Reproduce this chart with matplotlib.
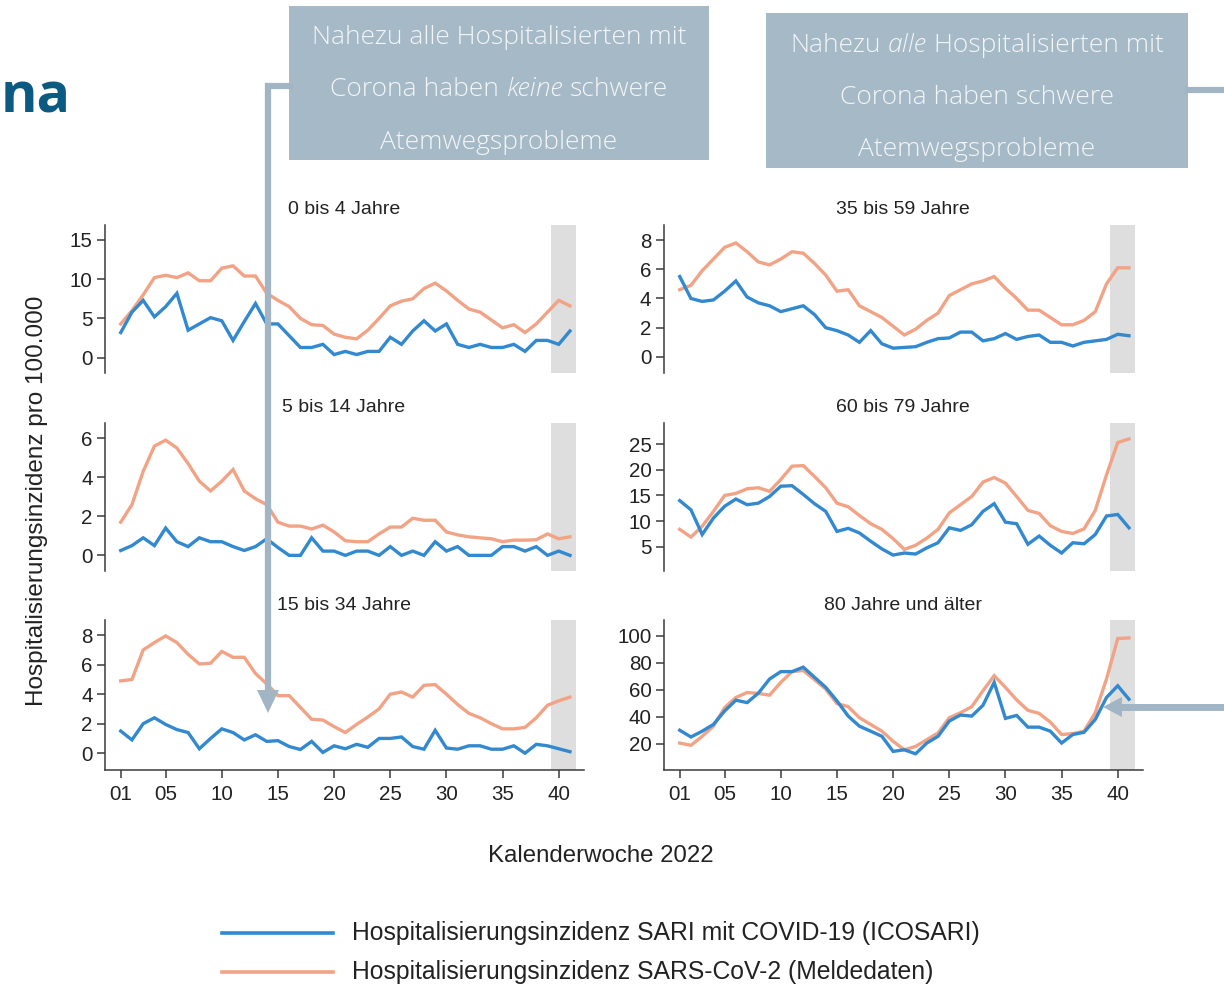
import matplotlib
matplotlib.use("Agg")
import matplotlib.pyplot as plt
from matplotlib.lines import Line2D
from matplotlib.patches import Polygon, Rectangle

plt.rcParams['font.family'] = ['Liberation Sans', 'DejaVu Sans']

# Kalenderwochen 2022
weeks = list(range(1, 42))
week_ticks = [1, 5, 10, 15, 20, 25, 30, 35, 40]
week_labels = ["01", "05", "10", "15", "20", "25", "30", "35", "40"]

# SARI mit COVID-19 (ICOSARI) und Meldedaten je Altersgruppe
sari_0_4 = [3.2, 5.8, 7.3, 5.2, 6.5, 8.2, 3.5, 4.3, 5.1, 4.7, 2.2, 4.6, 6.9, 4.3, 4.3,
            2.8, 1.3, 1.3, 1.7, 0.4, 0.8, 0.4, 0.8, 0.8, 2.6, 1.7, 3.4, 4.7, 3.4, 4.3,
            1.7, 1.3, 1.7, 1.3, 1.3, 1.7, 0.8, 2.2, 2.2, 1.7, 3.4]
meld_0_4 = [4.3, 6.0, 8.0, 10.2, 10.5, 10.2, 10.8, 9.8, 9.8, 11.4, 11.7, 10.4, 10.4, 8.2,
            7.3, 6.5, 5.0, 4.2, 4.1, 3.0, 2.6, 2.4, 3.5, 5.0, 6.6, 7.2, 7.5, 8.8, 9.5,
            8.5, 7.3, 6.2, 5.8, 4.8, 3.8, 4.2, 3.2, 4.3, 5.8, 7.3, 6.6]

sari_35_59 = [5.5, 4.0, 3.8, 3.9, 4.5, 5.2, 4.1, 3.7, 3.5, 3.1, 3.3, 3.5, 2.9, 2.0, 1.8,
              1.5, 1.0, 1.8, 0.9, 0.6, 0.65, 0.7, 1.0, 1.25, 1.3, 1.7, 1.7, 1.1, 1.25,
              1.6, 1.2, 1.4, 1.5, 1.0, 1.0, 0.75, 1.0, 1.1, 1.2, 1.55, 1.45]
meld_35_59 = [4.6, 4.9, 5.9, 6.7, 7.5, 7.8, 7.2, 6.5, 6.3, 6.7, 7.2, 7.1, 6.4, 5.6, 4.5,
              4.6, 3.5, 3.1, 2.7, 2.1, 1.5, 1.9, 2.5, 3.0, 4.2, 4.6, 5.0, 5.2, 5.5, 4.7,
              4.0, 3.2, 3.2, 2.7, 2.2, 2.2, 2.5, 3.1, 5.0, 6.1, 6.1]

sari_5_14 = [0.25, 0.5, 0.9, 0.5, 1.4, 0.7, 0.45, 0.9, 0.7, 0.7, 0.45, 0.25, 0.45, 0.85,
             0.4, 0.0, 0.0, 0.9, 0.22, 0.22, 0.0, 0.22, 0.22, 0.0, 0.45, 0.0, 0.22, 0.0,
             0.7, 0.22, 0.45, 0.0, 0.0, 0.0, 0.45, 0.45, 0.22, 0.45, 0.0, 0.22, 0.0]
meld_5_14 = [1.7, 2.6, 4.3, 5.6, 5.9, 5.5, 4.7, 3.8, 3.3, 3.8, 4.4, 3.3, 2.9, 2.6, 1.7,
             1.5, 1.5, 1.35, 1.55, 1.2, 0.75, 0.7, 0.7, 1.1, 1.45, 1.45, 1.9, 1.8, 1.8,
             1.2, 1.05, 0.95, 0.9, 0.85, 0.7, 0.78, 0.78, 0.8, 1.1, 0.85, 0.95]

sari_60_79 = [14.0, 12.2, 7.4, 10.6, 12.9, 14.3, 13.2, 13.5, 14.8, 16.8, 16.9, 15.2, 13.4,
              11.9, 8.0, 8.6, 7.7, 6.1, 4.6, 3.4, 3.8, 3.6, 4.8, 5.8, 8.7, 8.2, 9.3, 11.9,
              13.4, 9.8, 9.5, 5.5, 7.1, 5.3, 3.8, 5.8, 5.6, 7.4, 11.0, 11.3, 8.7]
meld_60_79 = [8.4, 6.9, 9.0, 11.9, 15.0, 15.4, 16.3, 16.5, 15.8, 18.1, 20.7, 20.8, 18.7,
              16.5, 13.5, 12.8, 11.1, 9.5, 8.4, 6.6, 4.5, 5.3, 6.7, 8.4, 11.6, 13.2, 14.8,
              17.6, 18.5, 17.4, 14.8, 12.1, 11.5, 9.1, 8.0, 7.6, 8.5, 12.1, 19.0, 25.3, 26.0]

sari_15_34 = [1.5, 0.9, 2.0, 2.4, 1.95, 1.6, 1.4, 0.3, 1.0, 1.65, 1.4, 0.9, 1.25, 0.8,
              0.85, 0.45, 0.25, 0.8, 0.05, 0.5, 0.3, 0.6, 0.4, 1.0, 1.0, 1.1, 0.45, 0.27,
              1.55, 0.35, 0.27, 0.5, 0.5, 0.27, 0.27, 0.5, 0.0, 0.6, 0.5, 0.3, 0.1]
meld_15_34 = [4.9, 5.0, 7.0, 7.5, 7.95, 7.5, 6.7, 6.05, 6.1, 6.9, 6.5, 6.5, 5.4, 4.7, 3.9,
              3.9, 3.1, 2.3, 2.25, 1.8, 1.4, 1.95, 2.45, 3.0, 4.0, 4.15, 3.8, 4.6, 4.65,
              4.0, 3.3, 2.7, 2.4, 2.0, 1.65, 1.65, 1.75, 2.4, 3.25, 3.55, 3.8]

sari_80 = [30, 25, 29.3, 34.3, 44.3, 52.3, 50.5, 57.5, 68, 73.5, 73.5, 76.8, 69.3, 61.8,
           51.8, 40.5, 33, 29.3, 25.5, 14.3, 15.5, 12.5, 20.5, 25.5, 36.8, 41.3, 40.5,
           48.5, 65.5, 38.8, 41, 32.3, 32.3, 29.3, 20.5, 26.8, 28.5, 38, 54.3, 63, 53]
meld_80 = [20.5, 18.8, 25.5, 33, 46.8, 54.3, 58, 57.3, 56, 65.5, 73.5, 74.3, 67.5, 60.5,
           49.8, 47.5, 39.3, 34.3, 29.3, 21.8, 15.5, 18, 23, 28, 39.3, 43, 47.5, 59.3,
           70.5, 61.8, 52.5, 44.8, 42.5, 36, 26.8, 27.5, 29.3, 43, 68, 98, 98.5]

panel_titles = ["0 bis 4 Jahre", "35 bis 59 Jahre", "5 bis 14 Jahre",
                "60 bis 79 Jahre", "15 bis 34 Jahre", "80 Jahre und älter"]
panel_sari = [sari_0_4, sari_35_59, sari_5_14, sari_60_79, sari_15_34, sari_80]
panel_meld = [meld_0_4, meld_35_59, meld_5_14, meld_60_79, meld_15_34, meld_80]
panel_yticks = [[0, 5, 10, 15], [0, 2, 4, 6, 8], [0, 2, 4, 6],
                [5, 10, 15, 20, 25], [0, 2, 4, 6, 8], [20, 40, 60, 80, 100]]
panel_ylims = [(-1.95, 16.9), (-1.1, 9.03), (-0.8, 6.78),
               (0.3, 29.1), (-1.14, 9.03), (0.5, 111.8)]

legend_labels = ["Hospitalisierungsinzidenz SARI mit COVID-19 (ICOSARI)",
                 "Hospitalisierungsinzidenz SARS-CoV-2 (Meldedaten)"]

BLUE = "#3389CF"
ORANGE = "#F2A385"
SHADE = "#DEDEDE"
AXC = "#3A3A3A"
BOXC = "#A6B9C7"
ARROWC = "#A2B5C5"
TITLEC = "#0B5A82"

W, H = 1224, 990
fig = plt.figure(figsize=(W / 100, H / 100), dpi=100)


def fx(x):
    return x / W


def fy(y):
    return 1 - y / H


cols = [(105, 584), (664, 1143)]
rows = [(225, 373), (423, 571), (620, 770)]
title_x = [344, 903]
title_y = [210, 408, 606]

for i in range(6):
    r, c = divmod(i, 2)
    x0, x1 = cols[c]
    y0, y1 = rows[r]
    ax = fig.add_axes([fx(x0), fy(y1), (x1 - x0) / W, (y1 - y0) / H])
    ax.axvspan(39.3, 41.55, color=SHADE, lw=0, zorder=0)
    ax.plot(weeks, panel_sari[i], color=BLUE, lw=2.4, zorder=3, solid_joinstyle='miter')
    ax.plot(weeks, panel_meld[i], color=ORANGE, lw=2.4, zorder=2, solid_joinstyle='miter')
    ax.set_xlim(-0.4, 42.25)
    ax.set_ylim(*panel_ylims[i])
    ax.set_yticks(panel_yticks[i])
    for s in ("top", "right"):
        ax.spines[s].set_visible(False)
    ax.spines["left"].set_color(AXC)
    ax.spines["left"].set_linewidth(1.1)
    ax.tick_params(axis="y", length=6, width=1.1, color=AXC, labelsize=14.8,
                   labelcolor="#222222", pad=3)
    if r == 2:
        ax.spines["bottom"].set_color(AXC)
        ax.spines["bottom"].set_linewidth(1.1)
        ax.set_xticks(week_ticks)
        ax.set_xticklabels(week_labels)
        ax.tick_params(axis="x", length=6, width=1.1, color=AXC, labelsize=14.8,
                       labelcolor="#222222", pad=5)
    else:
        ax.spines["bottom"].set_visible(False)
        ax.set_xticks([])
    ax.patch.set_alpha(0)
    fig.text(fx(title_x[c]), fy(title_y[r]), panel_titles[i], ha="center", va="center",
             fontsize=14, color="#222222")

fig.text(fx(37), fy(501), "Hospitalisierungsinzidenz pro 100.000", rotation=90,
         ha="center", va="center", fontsize=17.5, color="#222222")
fig.text(fx(601), fy(856), "Kalenderwoche 2022", ha="center", va="center",
         fontsize=17.3, color="#222222")

# Legende
for k, (lbl, col) in enumerate(zip(legend_labels, [BLUE, ORANGE])):
    yy = [933, 972][k]
    fig.add_artist(Line2D([fx(222), fx(333)], [fy(yy), fy(yy)], color=col, lw=2.6,
                          transform=fig.transFigure))
    fig.text(fx(352), fy(yy), lbl, ha="left", va="center", fontsize=17.8, color="#222222")

# Überschriftrest
fig.text(fx(71), fy(98), "na", ha="right", va="center", fontsize=40, fontweight="bold",
         color=TITLEC, family=["Open Sans", "DejaVu Sans"])

# Hinweisboxen
fig.add_artist(Rectangle((fx(289), fy(160)), (709 - 289) / W, (160 - 6) / H,
                         transform=fig.transFigure, color=BOXC, lw=0, zorder=5))
fig.add_artist(Rectangle((fx(766), fy(168)), (1188 - 766) / W, (168 - 13) / H,
                         transform=fig.transFigure, color=BOXC, lw=0, zorder=5))

renderer = fig.canvas.get_renderer()
BOXFONT = ["Open Sans", "DejaVu Sans"]
BOXTXT = "#F3F6F8"
BOXSIZE = 19


def space_width(style):
    a = fig.text(0, 0, "x x", fontsize=BOXSIZE, family=BOXFONT, style=style,
                 fontweight="light")
    b = fig.text(0, 0, "xx", fontsize=BOXSIZE, family=BOXFONT, style=style,
                 fontweight="light")
    w = a.get_window_extent(renderer).width - b.get_window_extent(renderer).width
    a.remove()
    b.remove()
    return w


SPACE = space_width("normal")


def rich_line(cx, cy, parts):
    texts = []
    for s, style in parts:
        t = fig.text(0, fy(cy), s, fontsize=BOXSIZE, family=BOXFONT, style=style,
                     fontweight="light", color=BOXTXT, ha="left", va="center", zorder=6)
        texts.append(t)
    widths = [t.get_window_extent(renderer).width for t in texts]
    total = sum(widths) + SPACE * (len(texts) - 1)
    x = cx - total / 2
    for t, w in zip(texts, widths):
        t.set_x(fx(x))
        x += w + SPACE


rich_line(499, 37, [("Nahezu alle Hospitalisierten mit", "normal")])
rich_line(499, 90, [("Corona haben", "normal"), ("keine", "italic"), ("schwere", "normal")])
rich_line(499, 143, [("Atemwegsprobleme", "normal")])
rich_line(977, 45, [("Nahezu", "normal"), ("alle", "italic"), ("Hospitalisierten mit", "normal")])
rich_line(977, 98, [("Corona haben schwere", "normal")])
rich_line(977, 150, [("Atemwegsprobleme", "normal")])

# Verbindungspfeile
fig.add_artist(Line2D([fx(290), fx(268), fx(268)], [fy(86), fy(86), fy(692)],
                      color=ARROWC, lw=4.5, solid_joinstyle="miter",
                      transform=fig.transFigure, zorder=7))
fig.add_artist(Polygon([(fx(257), fy(690)), (fx(279), fy(690)), (fx(268), fy(713))],
                       closed=True, color=ARROWC, lw=0, transform=fig.transFigure,
                       zorder=7))
fig.add_artist(Line2D([fx(1188), fx(1224)], [fy(90), fy(90)], color=ARROWC, lw=4.5,
                      transform=fig.transFigure, zorder=7))
fig.add_artist(Line2D([fx(1224), fx(1118)], [fy(707), fy(707)], color=ARROWC, lw=5,
                      transform=fig.transFigure, zorder=7))
fig.add_artist(Polygon([(fx(1122), fy(697)), (fx(1122), fy(717)), (fx(1103), fy(707))],
                       closed=True, color=ARROWC, lw=0, transform=fig.transFigure,
                       zorder=7))

fig.savefig("out.png", dpi=100)
